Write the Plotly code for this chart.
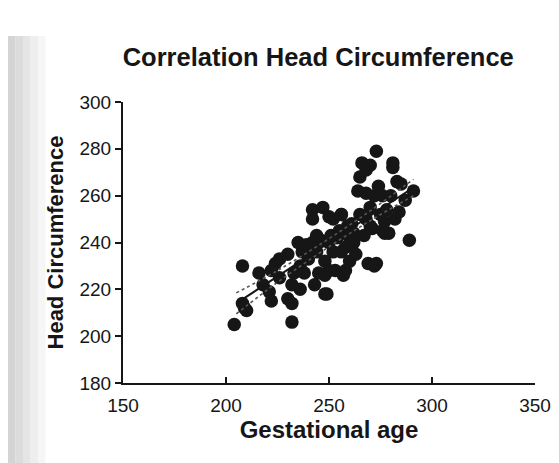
import plotly.graph_objects as go

# gestational age (days) vs head circumference (mm)
gest_age = [204, 208, 209, 208, 210, 216, 218, 222, 221, 222, 224, 226, 230, 232, 232,
            233, 232, 230, 236, 237, 238, 240, 241, 242, 243, 244, 242, 242, 246, 248,
            249, 248, 250, 251, 252, 252, 253, 254, 255, 256, 256, 257, 258, 259, 260,
            260, 261, 262, 263, 264, 265, 266, 267, 268, 268, 268, 269, 270, 270, 271,
            272, 273, 273, 274, 275, 276, 276, 278, 279, 280, 281, 281, 282, 283, 284,
            285, 287, 289, 291, 236, 245, 248, 250, 258, 277, 277, 247, 250, 256, 272,
            235, 239, 244, 226, 262, 265, 270]
head_circ = [205, 230, 212, 214, 211, 227, 222, 228, 219, 215, 231, 225, 216, 214, 206,
             227, 222, 235, 230, 236, 227, 233, 238, 240, 222, 236, 254, 250, 241, 226,
             218, 232, 240, 243, 236, 250, 228, 242, 245, 252, 236, 226, 238, 247, 242,
             232, 248, 240, 235, 262, 268, 274, 243, 271, 250, 261, 231, 273, 255, 246,
             260, 279, 231, 264, 252, 260, 245, 254, 244, 260, 274, 272, 250, 266, 253,
             265, 258, 241, 262, 220, 227, 218, 228, 228, 249, 244, 255, 251, 252, 230,
             240, 239, 243, 233, 244, 252, 247]

# linear fit and 95% band
fit_x = [205, 225, 248, 270, 291]
fit_y = [214, 225.5, 238.8, 251.4, 263.5]
band_upper = [218.5, 228, 240.5, 253.5, 267]
band_lower = [209.5, 223, 237, 249.3, 260]

x_ticks = [150, 200, 250, 300, 350]
y_ticks = [180, 200, 220, 240, 260, 280, 300]

FONT = 'Liberation Sans, Arial, sans-serif'
INK = '#161616'

fig = go.Figure()

fig.add_trace(go.Scatter(
    x=gest_age, y=head_circ, mode='markers',
    marker=dict(size=13.5, color=INK),
    showlegend=False, cliponaxis=False
))
for band in (band_upper, band_lower):
    fig.add_trace(go.Scatter(
        x=fit_x, y=band, mode='lines', line_shape='spline',
        line=dict(color='#555555', width=1.6, dash='dot'),
        showlegend=False
    ))
fig.add_trace(go.Scatter(
    x=fit_x, y=fit_y, mode='lines',
    line=dict(color=INK, width=2),
    showlegend=False
))

# shaded edge of the scanned page
for i, g in enumerate(['#d4d4d4', '#dcdcdc', '#e5e5e5', '#eeeeee', '#f6f6f6']):
    fig.add_shape(type='rect', xref='paper', yref='paper',
                  x0=-115 / 412 + i * 7.5 / 412, x1=-115 / 412 + (i + 1) * 7.5 / 412,
                  y0=-88 / 281, y1=1 + 94 / 281 - 28 / 281,
                  line_width=0, fillcolor=g, layer='below')

fig.update_layout(
    width=559, height=463,
    margin=dict(l=115, r=32, t=94, b=88),
    plot_bgcolor='white', paper_bgcolor='white',
    font=dict(family=FONT, color=INK),
    title=dict(text='<b>Correlation Head Circumference</b>', x=0.555, xanchor='center',
               y=0.894, yanchor='middle', yref='container',
               font=dict(size=25.5, family=FONT, color=INK)),
)

fig.update_xaxes(
    range=[150, 350], tickvals=x_ticks, showgrid=False, zeroline=False,
    showline=True, linecolor=INK, linewidth=2,
    ticks='inside', ticklen=6, tickwidth=2, tickcolor=INK,
    tickfont=dict(size=19, family=FONT), ticklabelstandoff=4,
    title=dict(text='<b>Gestational age</b>', font=dict(size=24, family=FONT), standoff=6)
)
fig.update_yaxes(
    range=[180, 300], tickvals=y_ticks, showgrid=False, zeroline=False,
    showline=True, linecolor=INK, linewidth=2,
    ticks='outside', ticklen=6, tickwidth=2, tickcolor=INK,
    tickfont=dict(size=19, family=FONT),
    title=dict(text='<b>Head Circumference</b>', font=dict(size=22, family=FONT), standoff=10)
)

fig.write_html('out.html')
